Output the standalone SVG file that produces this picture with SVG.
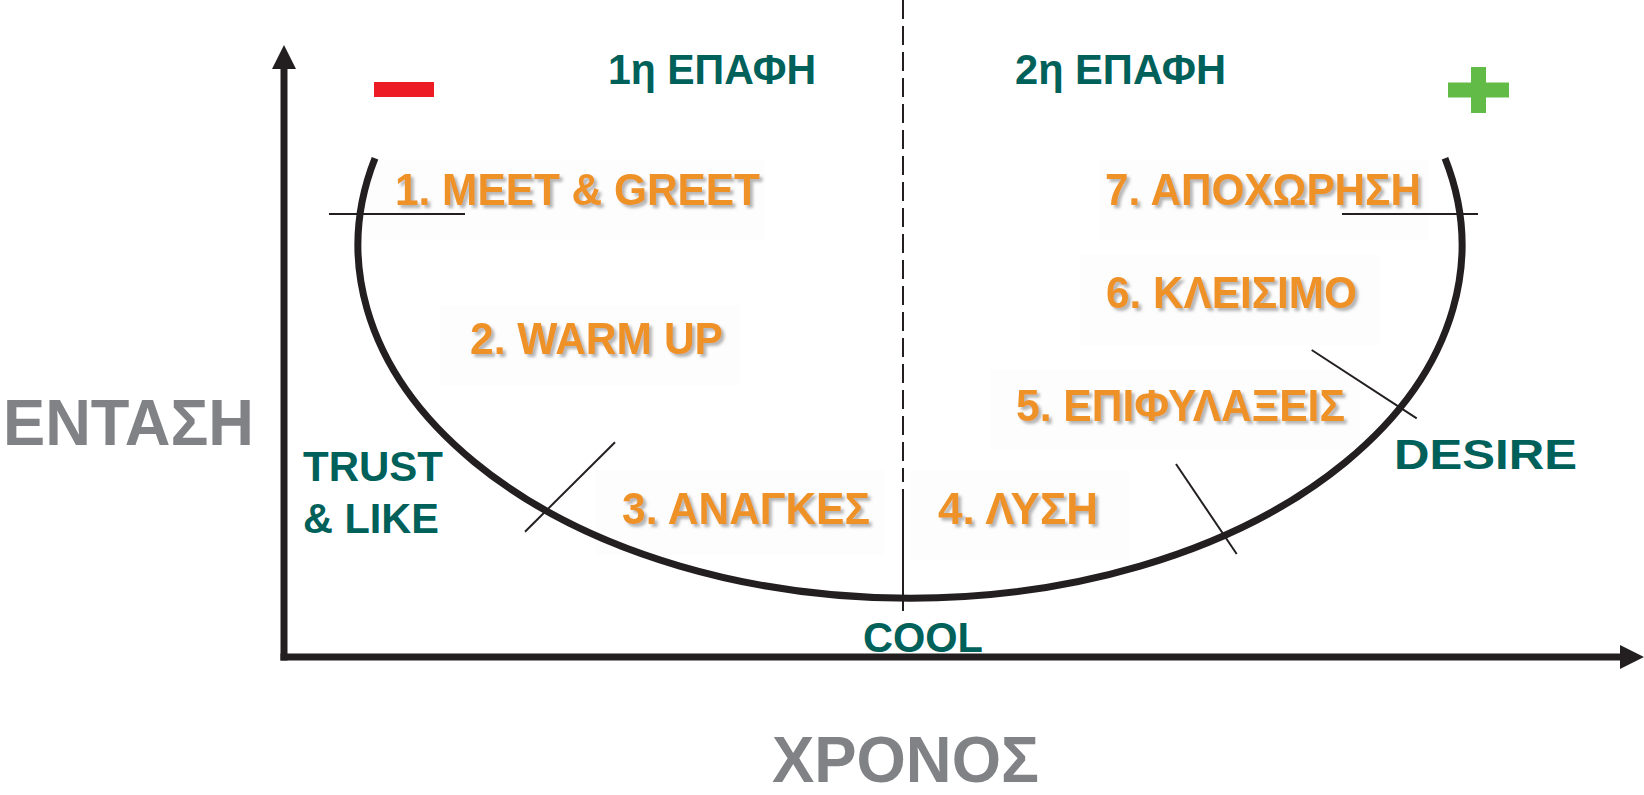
<svg xmlns="http://www.w3.org/2000/svg" width="1644" height="795" viewBox="0 0 1644 795">
  <defs>
    <style>
      .stage { font-family: "Liberation Sans", Arial, sans-serif; font-weight: bold; font-size: 44px; fill: #ee9126; filter: url(#textShadow); }
      .note { font-family: "Liberation Sans", Arial, sans-serif; font-weight: bold; font-size: 43px; fill: #00605a; }
      .axisLabel { font-family: "Liberation Sans", Arial, sans-serif; font-weight: bold; font-size: 65px; fill: #808285; }
      .panel { fill: #fdfdfd; }
      .axis { stroke: #231f20; stroke-width: 7; fill: none; }
      .arrow { fill: #231f20; }
      .curve { stroke: #231f20; stroke-width: 7; fill: none; }
      .tick { stroke: #231f20; stroke-width: 2; fill: none; }
      .divider { stroke: #231f20; stroke-width: 2; fill: none; }
    </style>
    <filter id="textShadow" x="-10%" y="-30%" width="120%" height="170%">
      <feDropShadow dx="3" dy="3" stdDeviation="1.6" flood-color="#7a7a7a" flood-opacity="0.55"/>
    </filter>
  </defs>

  <rect width="1644" height="795" fill="#ffffff"/>

  <!-- faint panels behind the stage labels -->
  <g id="panels">
    <rect class="panel" x="365" y="160" width="400" height="80"/>
    <rect class="panel" x="440" y="305" width="300" height="80"/>
    <rect class="panel" x="595" y="470" width="290" height="85"/>
    <rect class="panel" x="910" y="470" width="220" height="90"/>
    <rect class="panel" x="990" y="370" width="370" height="80"/>
    <rect class="panel" x="1080" y="255" width="300" height="90"/>
    <rect class="panel" x="1099" y="160" width="330" height="80"/>
  </g>

  <!-- axes, curve, tick marks and divider -->
  <g id="connectors">
    <line class="axis" x1="284" y1="660.5" x2="284" y2="66"/>
    <polygon class="arrow" points="284,45 272,69 296,69"/>
    <line class="axis" x1="280.5" y1="657" x2="1622" y2="657"/>
    <polygon class="arrow" points="1644,657 1620,645 1620,669"/>

    <path class="curve" d="M 375 158.3 A 552 353 0 1 0 1445 158.3"/>

    <line class="divider" x1="903" y1="0" x2="903" y2="482" stroke-dasharray="19 7"/>
    <line class="divider" x1="903" y1="489" x2="903" y2="611"/>

    <line class="tick" x1="329" y1="214" x2="465" y2="214"/>
    <line class="tick" x1="1342" y1="214" x2="1478" y2="214"/>
    <line class="tick" x1="525" y1="531.7" x2="615" y2="442.3"/>
    <line class="tick" x1="1176" y1="464" x2="1236.7" y2="554"/>
    <line class="tick" x1="1311.7" y1="350" x2="1416.7" y2="418.3"/>
  </g>

  <!-- minus and plus signs -->
  <g id="minus">
    <rect x="374" y="82" width="60" height="15" fill="#ed1c24"/>
  </g>
  <g id="plus" fill="#62bb46">
    <rect x="1448" y="82.5" width="61" height="15"/>
    <rect x="1471" y="67" width="15" height="46"/>
  </g>

  <!-- contact headers -->
  <g id="contact1"><text class="note" x="608" y="84" textLength="208" lengthAdjust="spacingAndGlyphs">1η ΕΠΑΦΗ</text></g>
  <g id="contact2"><text class="note" x="1015" y="84" textLength="211" lengthAdjust="spacingAndGlyphs">2η ΕΠΑΦΗ</text></g>

  <!-- stages -->
  <g id="stage1"><text class="stage" x="395" y="205" textLength="365" lengthAdjust="spacingAndGlyphs">1. MEET &amp; GREET</text></g>
  <g id="stage2"><text class="stage" x="470" y="354" textLength="253" lengthAdjust="spacingAndGlyphs">2. WARM UP</text></g>
  <g id="stage3"><text class="stage" x="622" y="524" textLength="248" lengthAdjust="spacingAndGlyphs">3. ΑΝΑΓΚΕΣ</text></g>
  <g id="stage4"><text class="stage" x="938" y="524" textLength="160" lengthAdjust="spacingAndGlyphs">4. ΛΥΣΗ</text></g>
  <g id="stage5"><text class="stage" x="1016" y="421" textLength="329" lengthAdjust="spacingAndGlyphs">5. ΕΠΙΦΥΛΑΞΕΙΣ</text></g>
  <g id="stage6"><text class="stage" x="1106" y="308" textLength="251" lengthAdjust="spacingAndGlyphs">6. ΚΛΕΙΣΙΜΟ</text></g>
  <g id="stage7"><text class="stage" x="1105" y="205" textLength="316" lengthAdjust="spacingAndGlyphs">7. ΑΠΟΧΩΡΗΣΗ</text></g>

  <!-- states along the curve -->
  <g id="trust">
    <text class="note" x="303" y="481" textLength="140" lengthAdjust="spacingAndGlyphs">TRUST</text>
    <text class="note" x="303" y="532.5" textLength="136" lengthAdjust="spacingAndGlyphs">&amp; LIKE</text>
  </g>
  <g id="cool"><text class="note" x="863" y="651.5" textLength="120" lengthAdjust="spacingAndGlyphs">COOL</text></g>
  <g id="desire"><text class="note" x="1394" y="469" textLength="183" lengthAdjust="spacingAndGlyphs">DESIRE</text></g>

  <!-- axis titles -->
  <g id="yTitle"><text class="axisLabel" x="3" y="445" textLength="251" lengthAdjust="spacingAndGlyphs">ΕΝΤΑΣΗ</text></g>
  <g id="xTitle"><text class="axisLabel" x="772" y="782" font-size="62" textLength="267" lengthAdjust="spacingAndGlyphs">ΧΡΟΝΟΣ</text></g>
</svg>
